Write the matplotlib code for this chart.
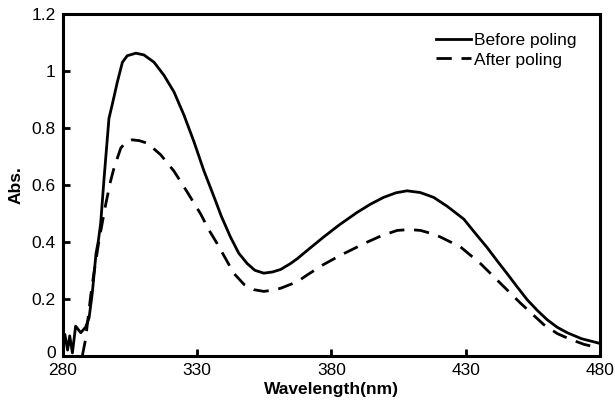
import numpy as np
import matplotlib.pyplot as plt
from matplotlib.transforms import ScaledTranslation

plt.rcParams['font.family'] = ['Liberation Sans', 'DejaVu Sans']

# before poling (solid)
wl_before = [280.0, 280.8, 281.8, 282.6, 283.6, 284.8, 286.7, 288.5, 289.8, 291.0,
             292.4, 293.2, 294.1, 295.4, 297.2, 298.5, 300.3, 302.2, 304.0, 307.2,
             310.2, 314.0, 317.7, 321.4, 325.1, 328.8, 332.5, 336.2, 339.0, 342.4,
             345.5, 348.6, 351.5, 354.8, 358.0, 361.1, 364.8, 367.3, 371.0, 377.1,
             383.0, 389.5, 394.5, 399.4, 404.0, 408.1, 413.0, 418.0, 423.0, 429.2,
             433.5, 437.9, 441.5, 445.3, 449.0, 452.8, 456.5, 460.2, 464.0, 467.7,
             473.0, 478.8, 480.0]
abs_before = [0.06, 0.075, 0.02, 0.07, 0.01, 0.104, 0.081, 0.10, 0.133, 0.22,
              0.36, 0.40, 0.463, 0.625, 0.833, 0.885, 0.96, 1.03, 1.053, 1.062,
              1.056, 1.03, 0.984, 0.926, 0.845, 0.752, 0.65, 0.56, 0.49, 0.417,
              0.36, 0.324, 0.30, 0.29, 0.294, 0.303, 0.324, 0.341, 0.37, 0.417,
              0.46, 0.503, 0.532, 0.556, 0.572, 0.579, 0.573, 0.556, 0.525, 0.48,
              0.43, 0.38, 0.335, 0.289, 0.243, 0.197, 0.16, 0.127, 0.10, 0.081,
              0.06, 0.046, 0.043]

# after poling (dashed)
wl_after = [287.3, 288.5, 290.4, 291.6, 293.5, 296.0, 297.8, 299.1, 301.6, 303.5,
            305.8, 308.5, 311.5, 316.4, 321.4, 326.3, 331.3, 334.5, 337.5, 343.7,
            347.5, 351.1, 354.8, 358.0, 361.1, 367.3, 371.0, 377.0, 383.4, 393.3,
            399.0, 404.5, 409.0, 413.1, 418.0, 420.5, 428.0, 435.4, 442.8, 450.3,
            458.9, 464.0, 468.8, 474.0, 478.8, 480.0]
abs_after = [0.0, 0.058, 0.21, 0.29, 0.405, 0.532, 0.613, 0.66, 0.729, 0.75,
             0.758, 0.755, 0.746, 0.706, 0.648, 0.575, 0.498, 0.44, 0.393, 0.289,
             0.25, 0.232, 0.226, 0.23, 0.237, 0.26, 0.284, 0.32, 0.353, 0.399,
             0.423, 0.44, 0.443, 0.44, 0.427, 0.417, 0.382, 0.324, 0.255, 0.185,
             0.11, 0.078, 0.058, 0.04, 0.029, 0.027]

xticks = [280, 330, 380, 430, 480]
yticks = [0, 0.2, 0.4, 0.6, 0.8, 1.0, 1.2]
ytick_labels = ['0', '0.2', '0.4', '0.6', '0.8', '1', '1.2']

fig = plt.figure(figsize=(6.15, 4.08), dpi=100)
ax = fig.add_axes([0.102, 0.128, 0.874, 0.838])

ax.plot(wl_before, abs_before, color='black', lw=2.0, label='Before poling')
ax.plot(wl_after, abs_after, color='black', lw=2.0, dashes=(5.5, 3.5), label='After poling')

ax.set_xlim(280, 480)
ax.set_ylim(0, 1.2)
ax.set_xticks(xticks)
ax.set_yticks(yticks)
ax.set_yticklabels(ytick_labels)
ax.tick_params(direction='in', length=5, width=2, labelsize=12.5)
ax.tick_params(axis='y', pad=5)
ax.tick_params(axis='x', pad=5)
for s in ax.spines.values():
    s.set_linewidth(2.2)

# nudge the "0" label up so it clears the "280" below it
zero_lbl = ax.yaxis.get_major_ticks()[0].label1
zero_lbl.set_transform(zero_lbl.get_transform() + ScaledTranslation(0, 3 / 72, fig.dpi_scale_trans))

ax.set_xlabel('Wavelength(nm)', fontsize=12.5, fontweight='bold', labelpad=3)
ax.set_ylabel('Abs.', fontsize=12.5, fontweight='bold', labelpad=6)

ax.legend(loc='upper right', bbox_to_anchor=(0.985, 0.99), frameon=False,
          fontsize=12.5, handlelength=2.0, handletextpad=0.2, labelspacing=0.25)

fig.savefig('out.png', dpi=100)
